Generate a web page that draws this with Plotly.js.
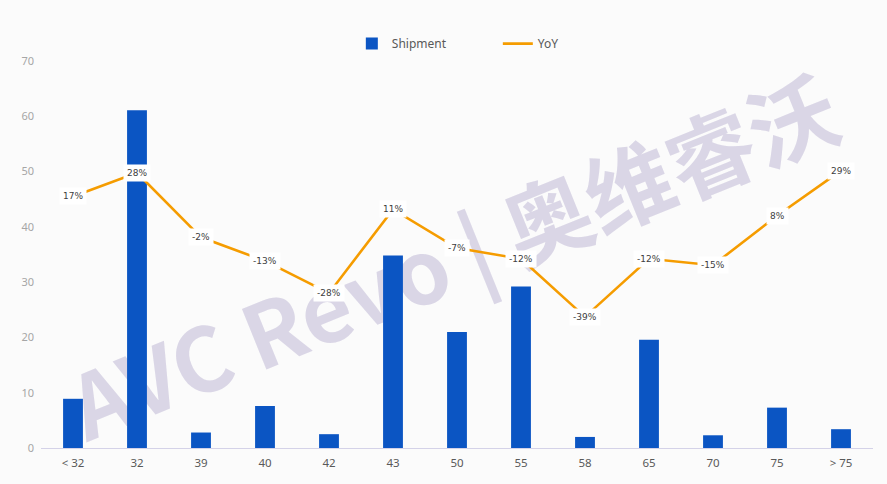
<!DOCTYPE html>
<html>
<head>
<meta charset="utf-8">
<script src="https://cdn.plot.ly/plotly-3.0.1.min.js"></script>
<style>
  html, body { margin: 0; padding: 0; background: #fbfbfb; }
  #chart { width: 887px; height: 484px; }
</style>
</head>
<body>
<div id="chart"></div>
<script>
// Screen-size segments (inches)
const categories = ['< 32', '32', '39', '40', '42', '43', '50', '55', '58', '65', '70', '75', '> 75'];
// Shipment volume per segment
const shipment = [8.9, 61.1, 2.8, 7.6, 2.5, 34.8, 21.0, 29.2, 2.0, 19.6, 2.3, 7.3, 3.4];
// Year-over-year change (fraction)
const yoy = [0.17, 0.28, -0.02, -0.13, -0.28, 0.11, -0.07, -0.12, -0.39, -0.12, -0.15, 0.08, 0.29];
const yTicks = [0, 10, 20, 30, 40, 50, 60, 70];

const barColor = '#0b55c3';
const lineColor = '#f59c00';

const traces = [
  {
    type: 'bar',
    name: 'Shipment',
    x: categories,
    y: shipment,
    marker: { color: barColor },
    hoverinfo: 'x+y'
  },
  {
    type: 'scatter',
    mode: 'lines',
    name: 'YoY',
    x: categories,
    y: yoy,
    yaxis: 'y2',
    line: { color: lineColor, width: 2.6 },
    hoverinfo: 'x+y'
  }
];

// Percentage labels sit on each YoY point with a white box behind them
// (category axes place annotations by category index)
const yoyLabels = categories.map((c, i) => ({
  x: i,
  y: yoy[i],
  xref: 'x',
  yref: 'y2',
  text: Math.round(yoy[i] * 100) + '%',
  showarrow: false,
  bgcolor: '#ffffff',
  borderpad: 3,
  font: { family: 'DejaVu Sans, sans-serif', size: 9, color: '#404040' }
}));

const layout = {
  width: 887,
  height: 484,
  margin: { l: 41, r: 14, t: 61, b: 36 },
  paper_bgcolor: '#fbfbfb',
  plot_bgcolor: 'rgba(0,0,0,0)',
  bargap: 0.69,
  showlegend: true,
  legend: {
    orientation: 'h',
    x: 0.3736,
    xanchor: 'left',
    y: 1.045,
    yanchor: 'middle',
    bgcolor: 'rgba(0,0,0,0)',
    entrywidth: 101,
    entrywidthmode: 'pixels',
    font: { family: 'Noto Sans, sans-serif', size: 12, color: '#595959' }
  },
  xaxis: {
    type: 'category',
    categoryorder: 'array',
    categoryarray: categories,
    range: [-0.5, categories.length - 0.5],
    showgrid: false,
    zeroline: false,
    showline: true,
    linecolor: '#d4d2e8',
    linewidth: 1,
    ticks: '',
    ticklabelstandoff: 4,
    tickfont: { family: 'Noto Sans, sans-serif', size: 11.5, color: '#595959' }
  },
  yaxis: {
    range: [0, 70],
    tickvals: yTicks,
    showgrid: false,
    zeroline: false,
    showline: false,
    ticks: '',
    ticklabelstandoff: 6,
    tickfont: { family: 'Noto Sans, sans-serif', size: 11, color: '#a6a6a6' }
  },
  yaxis2: {
    overlaying: 'y',
    side: 'right',
    range: [-1, 0.8],
    visible: false,
    showgrid: false,
    zeroline: false
  },
  shapes: [
    {
      // Brand watermark behind the data
      type: 'rect',
      xref: 'paper', yref: 'paper',
      x0: 0.2, x1: 0.8, y0: 0.32, y1: 0.62,
      layer: 'below',
      line: { width: 0 },
      fillcolor: 'rgba(0,0,0,0)',
      label: {
        text: 'AVC Revo | 奥维睿沃',
        textangle: -22,
        textposition: 'middle center',
        font: { family: 'Noto Sans CJK SC, sans-serif', size: 88, color: 'rgba(205,200,222,0.72)', weight: 'bold' }
      }
    }
  ],
  annotations: yoyLabels
};

Plotly.newPlot('chart', traces, layout, { displayModeBar: false, staticPlot: true });
</script>
</body>
</html>
